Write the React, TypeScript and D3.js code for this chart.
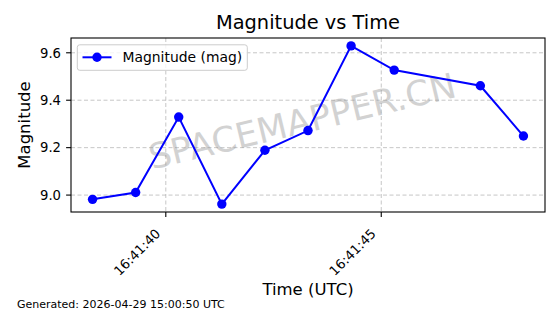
import React from "react";
import * as d3 from "d3";

const times = ["16:41:38.3", "16:41:39.3", "16:41:40.3", "16:41:41.3", "16:41:42.3", "16:41:43.3", "16:41:44.3", "16:41:45.3", "16:41:47.3", "16:41:48.3"];
const magnitudes = [8.982, 9.011, 9.329, 8.962, 9.189, 9.272, 9.629, 9.527, 9.461, 9.249];
const yTicks = [9.0, 9.2, 9.4, 9.6];
const xTickLabels = ["16:41:40", "16:41:45"];

const W = 560, H = 314;
const M = { left: 71, right: 545, top: 38, bottom: 212 };
const FONT = "DejaVu Sans, sans-serif";

const parse = (s: string) => {
  const [h, m, sec] = s.split(":");
  return new Date(Date.UTC(2026, 3, 29, +h, +m, 0, Math.round(parseFloat(sec) * 1000)));
};

export default function App() {
  const tDates = times.map(parse);
  const tMin = d3.min(tDates)!.getTime();
  const tMax = d3.max(tDates)!.getTime();
  const padT = (tMax - tMin) * 0.05;
  const x = d3.scaleUtc().domain([new Date(tMin - padT), new Date(tMax + padT)]).range([M.left, M.right]);
  const yMin = d3.min(magnitudes)!, yMax = d3.max(magnitudes)!;
  const padY = (yMax - yMin) * 0.05;
  const y = d3.scaleLinear().domain([yMin - padY, yMax + padY]).range([M.bottom, M.top]);
  const line = d3.line<number>().x((_, i) => x(tDates[i])).y((d) => y(d));
  const xTicks = xTickLabels.map((s) => parse(s));
  const cx = (M.left + M.right) / 2;

  return (
    <svg width={W} height={H} style={{ position: "absolute", left: 0, top: 0, background: "#fff" }} fontFamily={FONT}>
      <rect x={0} y={0} width={W} height={H} fill="#fff" />
      {/* grid */}
      {yTicks.map((t) => (
        <line key={"gy" + t} x1={M.left} x2={M.right} y1={y(t)} y2={y(t)} stroke="#b0b0b0" strokeWidth={1} strokeDasharray="4,2.5" opacity={0.7} />
      ))}
      {xTicks.map((t, i) => (
        <line key={"gx" + i} x1={x(t)} x2={x(t)} y1={M.top} y2={M.bottom} stroke="#b0b0b0" strokeWidth={1} strokeDasharray="4,2.5" opacity={0.7} />
      ))}
      {/* watermark */}
      <text transform="translate(305,133) rotate(-13.4)" textAnchor="middle" fontSize={35} fill="#909090" opacity={0.4}>SPACEMAPPER.CN</text>
      {/* data */}
      <path d={line(magnitudes) || ""} fill="none" stroke="#0000ff" strokeWidth={2} />
      {magnitudes.map((m, i) => (
        <circle key={i} cx={x(tDates[i])} cy={y(m)} r={4.7} fill="#0000ff" />
      ))}
      {/* frame */}
      <rect x={M.left} y={M.top} width={M.right - M.left} height={M.bottom - M.top} fill="none" stroke="#000" strokeWidth={1.1} />
      {/* y axis */}
      {yTicks.map((t) => (
        <g key={"yt" + t}>
          <line x1={M.left - 4.9} x2={M.left} y1={y(t)} y2={y(t)} stroke="#000" strokeWidth={1.1} />
          <text x={M.left - 10} y={y(t)} dy="0.36em" textAnchor="end" fontSize={13.2} fill="#000">{t.toFixed(1)}</text>
        </g>
      ))}
      {/* x axis */}
      {xTicks.map((t, i) => (
        <g key={"xt" + i}>
          <line x1={x(t)} x2={x(t)} y1={M.bottom} y2={M.bottom + 4.9} stroke="#000" strokeWidth={1.1} />
          <text transform={`translate(${x(t) - 4.5},${M.bottom + 22.5}) rotate(-45)`} textAnchor="end" fontSize={13.2} fill="#000">{xTickLabels[i]}</text>
        </g>
      ))}
      {/* labels */}
      <text x={cx} y={29} textAnchor="middle" fontSize={19.4} fill="#000">Magnitude vs Time</text>
      <text x={cx} y={295} textAnchor="middle" fontSize={16.5} fill="#000">Time (UTC)</text>
      <text transform={`translate(30,${(M.top + M.bottom) / 2}) rotate(-90)`} textAnchor="middle" fontSize={16.5} fill="#000">Magnitude</text>
      <text x={17} y={308} fontSize={11} fill="#000">Generated: 2026-04-29 15:00:50 UTC</text>
      {/* legend */}
      <rect x={77.3} y={44.8} width={170} height={25.5} rx={2.5} fill="#fff" fillOpacity={0.8} stroke="#cccccc" strokeWidth={1} />
      <line x1={82.5} x2={111.5} y1={57.3} y2={57.3} stroke="#0000ff" strokeWidth={2} />
      <circle cx={97} cy={57.3} r={4.7} fill="#0000ff" />
      <text x={122.5} y={57.3} dy="0.36em" fontSize={13.9} fill="#000">Magnitude (mag)</text>
    </svg>
  );
}
